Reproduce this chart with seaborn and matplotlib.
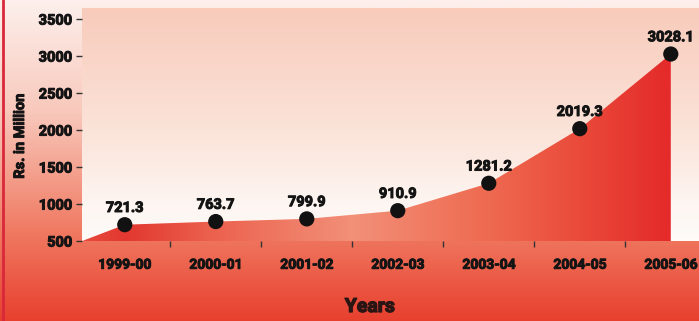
import numpy as np
import pandas as pd
import matplotlib
matplotlib.use("Agg")
import matplotlib.pyplot as plt
import matplotlib.patheffects as pe
import seaborn as sns
from matplotlib.colors import LinearSegmentedColormap
from matplotlib.patches import Polygon

# ---- data ----
years = ["1999-00", "2000-01", "2001-02", "2002-03", "2003-04", "2004-05", "2005-06"]
values = [721.3, 763.7, 799.9, 910.9, 1281.2, 2019.3, 3028.1]
value_labels = ["721.3", "763.7", "799.9", "910.9", "1281.2", "2019.3", "3028.1"]
yticks = [500, 1000, 1500, 2000, 2500, 3000, 3500]
ylabel_text = "Rs. in Million"
xlabel_text = "Years"

sns.set_theme(style="white")
plt.rcParams['font.family'] = ['Roboto', 'DejaVu Sans']

TXT = "#141414"
W = "bold"
HEAVY = [pe.withStroke(linewidth=0.7, foreground=TXT)]

fig = plt.figure(figsize=(6.99, 3.21), dpi=100)

# figure background gradient
bg = fig.add_axes([0, 0, 1, 1], zorder=-10)
bg.set_axis_off()
bg_cmap = LinearSegmentedColormap.from_list(
    "bg", [(0, "#fdf0ec"), (0.35, "#f8c8bb"), (0.72, "#f07a62"), (1, "#e8402f")])
bg.imshow(np.linspace(0, 1, 256).reshape(-1, 1), cmap=bg_cmap, aspect='auto',
          extent=[0, 1, 0, 1], origin='upper')
bg.axvline(0.0045, color="#d8283a", lw=2)
bg.set_xlim(0, 1)
bg.set_ylim(0, 1)

# main axes
ax = fig.add_axes([0.1173, 0.249, 0.8827, 0.726])
ax.patch.set_alpha(0)
xlo, xhi = -0.47, 6.31
ylo, yhi = 500, 3650
ax.set_xlim(xlo, xhi)
ax.set_ylim(ylo, yhi)

# axes background gradient
ax_cmap = LinearSegmentedColormap.from_list("axbg", [(0, "#f8cbbb"), (0.55, "#fbe4da"), (0.85, "#fdf6f2"), (1, "#fefbf9")])
ax.imshow(np.linspace(0, 1, 256).reshape(-1, 1), cmap=ax_cmap, aspect='auto',
          extent=[xlo, xhi, ylo, yhi], origin='upper', zorder=0)

# area fill with horizontal gradient
xpos = np.arange(len(years))
verts = [(xlo, ylo)] + list(zip(xpos, values)) + [(xpos[-1], ylo)]
poly = Polygon(verts, closed=True, facecolor='none', edgecolor='none')
ax.add_patch(poly)
fill_cmap = LinearSegmentedColormap.from_list(
    "fill", [(0, "#e84a3c"), (0.069, "#e2382f"), (0.217, "#ec6350"), (0.438, "#f29078"),
             (0.659, "#ee6a50"), (0.807, "#ea4a3a"), (0.954, "#e42a2a"), (1, "#e42a2a")])
im = ax.imshow(np.linspace(0, 1, 256).reshape(1, -1), cmap=fill_cmap, aspect='auto',
               extent=[xlo, xhi, ylo, yhi], origin='lower', zorder=1)
im.set_clip_path(poly)

# points
df = pd.DataFrame({"x": xpos, "value": values})
sns.scatterplot(data=df, x="x", y="value", ax=ax, s=120, color="#111111",
                edgecolor="none", zorder=5, legend=False)

for xi, v, lab in zip(xpos, values, value_labels):
    ax.annotate(lab, (xi, v), xytext=(0, 7), textcoords="offset points",
                ha="center", va="bottom", fontsize=10.5, fontweight=W,
                color=TXT, zorder=6, annotation_clip=False, path_effects=HEAVY)

ax.set_xlim(xlo, xhi)
ax.set_ylim(ylo, yhi)

# ticks
ax.set_xticks(xpos)
ax.set_xticklabels(years, fontsize=10, fontweight=W, color=TXT)
ax.set_xticks(xpos[:-1] + 0.5, minor=True)
ax.tick_params(axis="x", which="major", length=0, pad=12)
ax.tick_params(axis="x", which="minor", length=4, width=1, color="#333333", direction="out", bottom=True)
ax.set_yticks(yticks)
ax.set_yticklabels([str(t) for t in yticks], fontsize=10.5, fontweight=W, color=TXT)
ax.tick_params(axis="y", which="major", length=4, width=1, color="#333333", left=True, pad=3)
for lbl in ax.get_xticklabels() + ax.get_yticklabels():
    lbl.set_path_effects(HEAVY)

for s in ax.spines.values():
    s.set_visible(False)
ax.set_xlabel("")
ax.set_ylabel("")

fig.text(20 / 699, 1 - 136 / 321, ylabel_text, rotation=90, ha="center", va="center",
         fontsize=10.5, fontweight=W, color=TXT, path_effects=HEAVY)
fig.text(370 / 699, 1 - 307 / 321, xlabel_text, ha="center", va="center",
         fontsize=14, fontweight=W, color="#2a1515",
         path_effects=[pe.withStroke(linewidth=0.9, foreground="#2a1515")])

fig.savefig("out.png", dpi=100)
